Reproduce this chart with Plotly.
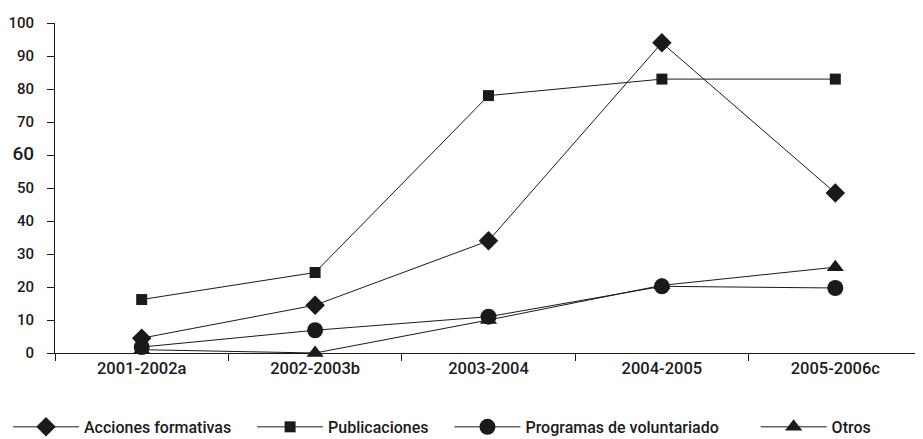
import plotly.graph_objects as go

categories = ["2001-2002a", "2002-2003b", "2003-2004", "2004-2005", "2005-2006c"]
acciones = [4.5, 14.5, 34, 94, 48.5]
publicaciones = [16.2, 24.4, 78, 83, 83]
programas = [1.8, 6.9, 11, 20.2, 19.7]
otros = [1, 0, 10, 20.5, 26]
series_names = ["Acciones formativas", "Publicaciones", "Programas de voluntariado", "Otros"]
legend_pad = [4, 4, 8, 0]
y_ticks = [0, 10, 20, 30, 40, 50, 60, 70, 80, 90, 100]
y_ticktext = [str(v) if v != 60 else '<span style="font-size:19px">60</span>' for v in y_ticks]

FONT = "Roboto"
INK = "#1a1a1a"

series = [
    (acciones, "diamond", 15),
    (publicaciones, "square", 11),
    (programas, "circle", 16),
    (otros, "triangle-up", 15),
]

fig = go.Figure()
for (vals, sym, size), name, pad in zip(series, series_names, legend_pad):
    fig.add_trace(go.Scatter(
        x=categories, y=vals, name=name + "\u00a0" * pad, mode="lines+markers",
        line=dict(color=INK, width=1),
        marker=dict(symbol=sym, size=size, color=INK),
        cliponaxis=False,
    ))

# page body has an 8px margin, so the figure is 8px smaller than the window
fig.update_layout(
    width=915, height=431,
    margin=dict(l=47, r=1, t=15, b=86),
    paper_bgcolor="white", plot_bgcolor="white",
    font=dict(family=FONT, size=16, color=INK, weight=500),
    showlegend=True,
    legend=dict(
        orientation="h", xref="container", yref="container",
        x=0.0, xanchor="left", y=0.028, yanchor="middle",
        itemwidth=66, entrywidth=0, font=dict(size=16, weight=500),
        traceorder="normal", bgcolor="rgba(0,0,0,0)",
    ),
)
fig.update_xaxes(
    type="category", range=[-0.5, 4.5], automargin=False,
    showline=True, linecolor=INK, linewidth=1,
    ticks="outside", tickson="boundaries", ticklen=7, tickcolor=INK,
    showgrid=False, zeroline=False, tickfont=dict(size=16.5),
)
fig.update_yaxes(
    range=[0, 100], tickvals=y_ticks, ticktext=y_ticktext, automargin=False,
    showline=True, linecolor=INK, linewidth=1,
    ticks="outside", ticklen=7, tickcolor=INK,
    showgrid=False, zeroline=False, tickfont=dict(size=15),
    ticklabelstandoff=10,
)

fig.write_html("out.html")
